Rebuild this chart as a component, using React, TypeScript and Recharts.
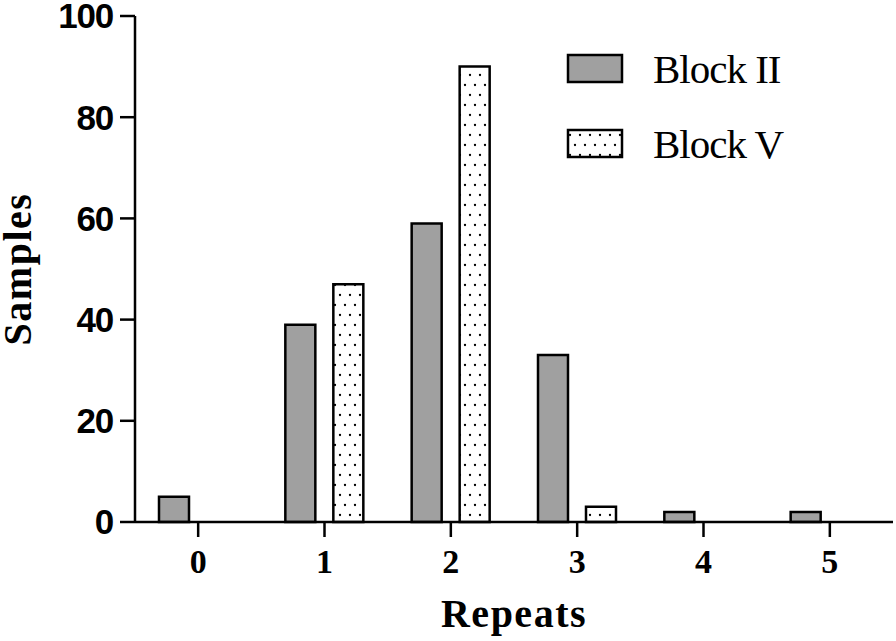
import React from 'react';
import { BarChart, Bar, XAxis, YAxis, Legend, Label } from 'recharts';

const categories = ['0', '1', '2', '3', '4', '5'];
const blockII = [5, 39, 59, 33, 2, 2];
const blockV = [0, 47, 90, 3, 0, 0];
const yTicks = [0, 20, 40, 60, 80, 100];

const data = categories.map((c, i) => ({ repeat: c, blockII: blockII[i], blockV: blockV[i] }));

const GRAY = '#a0a0a0';
const SERIF = '"Liberation Serif", "Times New Roman", serif';
const SANS = '"Liberation Sans", Arial, sans-serif';

const DotPattern = ({ id }: { id: string }) => (
  <pattern id={id} patternUnits="userSpaceOnUse" width={10} height={20}>
    <rect x={0} y={0} width={10} height={20} fill="#ffffff" />
    <circle cx={5} cy={5} r={1.15} fill="#000" />
    <circle cx={0} cy={15} r={1.15} fill="#000" />
    <circle cx={10} cy={15} r={1.15} fill="#000" />
  </pattern>
);

const renderLegend = () => (
  <svg width={300} height={140} style={{ display: 'block' }}>
    <defs>
      <DotPattern id="dotsLegend" />
    </defs>
    <rect x={8} y={15} width={54} height={27} fill={GRAY} stroke="#000" strokeWidth={2.5} />
    <text x={93} y={43} fontFamily={SERIF} fontSize={41} letterSpacing={-1} fill="#000">Block II</text>
    <rect x={8} y={90} width={54} height={27} fill="url(#dotsLegend)" stroke="#000" strokeWidth={2.5} />
    <text x={93} y={118} fontFamily={SERIF} fontSize={41} letterSpacing={-1} fill="#000">Block V</text>
  </svg>
);

export default function App() {
  return (
    <div style={{ position: 'absolute', left: 0, top: 0 }}>
      <BarChart
        width={896}
        height={641}
        data={data}
        margin={{ top: 16, right: 3, left: 0, bottom: 0 }}
        barGap={18}
      >
        <defs>
          <DotPattern id="dotsBar" />
        </defs>
        <XAxis
          dataKey="repeat"
          type="category"
          height={119}
          tickSize={15}
          tickMargin={12}
          axisLine={{ stroke: '#000', strokeWidth: 2.5 }}
          tickLine={{ stroke: '#000', strokeWidth: 2.5 }}
          tick={{ fill: '#000', fontFamily: SERIF, fontWeight: 'bold', fontSize: 34 }}
        >
          <Label
            content={(props: any) => {
              const vb = props.viewBox || {};
              return (
                <text
                  x={vb.x + vb.width / 2}
                  y={vb.y + 105}
                  textAnchor="middle"
                  fontFamily={SERIF}
                  fontWeight="bold"
                  fontSize={40}
                  letterSpacing={1.5}
                  fill="#000"
                >
                  Repeats
                </text>
              );
            }}
          />
        </XAxis>
        <YAxis
          width={135}
          domain={[0, 100]}
          ticks={yTicks}
          interval={0}
          tickSize={15}
          tickMargin={7}
          axisLine={{ stroke: '#000', strokeWidth: 2.5 }}
          tickLine={{ stroke: '#000', strokeWidth: 2.5 }}
          tick={{ fill: '#000', fontFamily: SANS, fontWeight: 'bold', fontSize: 35, letterSpacing: -1.2 }}
        >
          <Label
            content={(props: any) => {
              const vb = props.viewBox || {};
              const cy = vb.y + vb.height / 2;
              return (
                <text
                  x={31}
                  y={cy}
                  transform={`rotate(-90, 31, ${cy})`}
                  textAnchor="middle"
                  fontFamily={SERIF}
                  fontWeight="bold"
                  fontSize={40}
                  letterSpacing={1.5}
                  fill="#000"
                >
                  Samples
                </text>
              );
            }}
          />
        </YAxis>
        <Legend
          layout="vertical"
          align="center"
          verticalAlign="middle"
          content={renderLegend}
          wrapperStyle={{ position: 'absolute', left: 560, top: 40, width: 300, height: 140 }}
        />
        <Bar
          dataKey="blockII"
          name="Block II"
          barSize={30}
          fill={GRAY}
          stroke="#000"
          strokeWidth={2.5}
          isAnimationActive={false}
        />
        <Bar
          dataKey="blockV"
          name="Block V"
          barSize={30}
          fill="url(#dotsBar)"
          stroke="#000"
          strokeWidth={2.5}
          isAnimationActive={false}
        />
      </BarChart>
    </div>
  );
}
